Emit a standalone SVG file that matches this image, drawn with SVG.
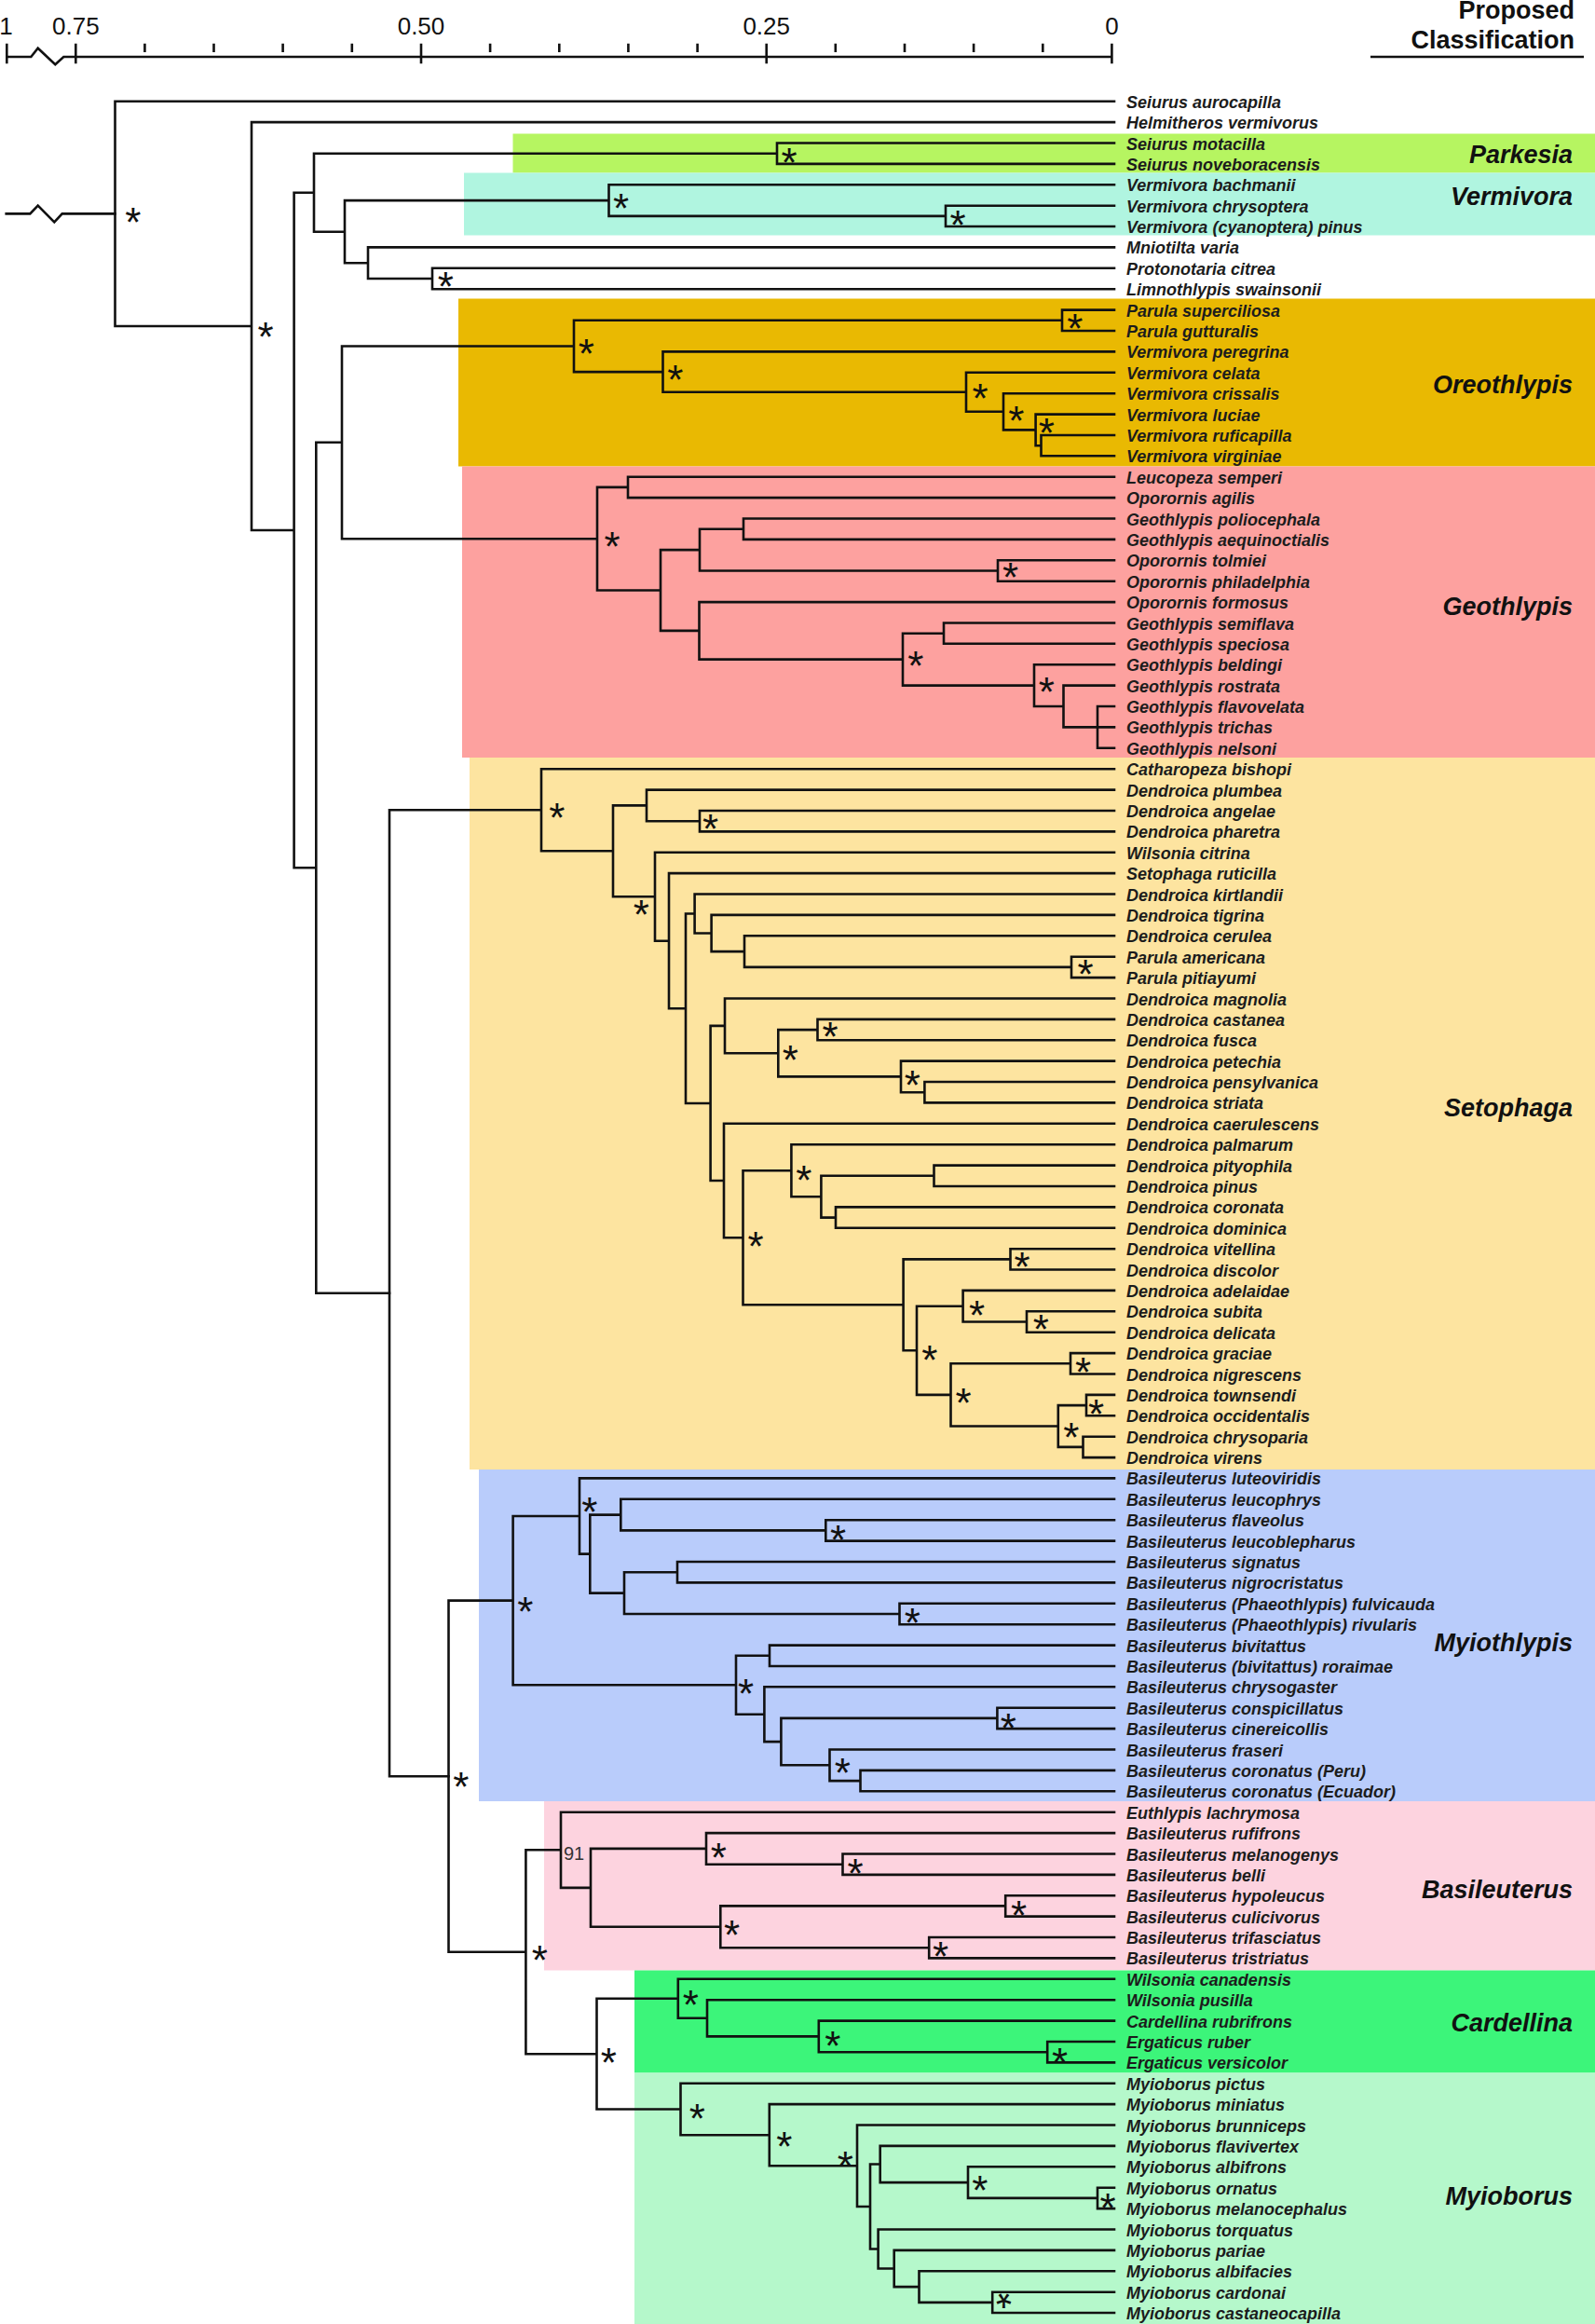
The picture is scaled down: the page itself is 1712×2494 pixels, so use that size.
<svg xmlns="http://www.w3.org/2000/svg" width="1712" height="2494" viewBox="0 0 1712 2494">
<style>
.br{fill:none;stroke:#111;stroke-width:2.6;stroke-linecap:square}
.ax{fill:none;stroke:#111;stroke-width:2.6}
.lf{font-family:"Liberation Sans",Arial,sans-serif;font-weight:bold;font-style:italic;font-size:18px;fill:#1c1c1c}
.cl{font-family:"Liberation Sans",Arial,sans-serif;font-weight:bold;font-style:italic;font-size:27px;fill:#111;text-anchor:end}
.hd{font-family:"Liberation Sans",Arial,sans-serif;font-weight:bold;font-size:27px;fill:#111;text-anchor:end}
.tk{font-family:"Liberation Sans",Arial,sans-serif;font-size:26px;fill:#111;text-anchor:middle}
.st{font-family:"Liberation Sans",Arial,sans-serif;font-size:44px;fill:#111;text-anchor:middle}
.bs{font-family:"Liberation Sans",Arial,sans-serif;font-size:20px;fill:#333}
</style>
<rect width="1712" height="2494" fill="#fff"/>
<g id="clade-boxes">
<rect id="box-parkesia" x="550.5" y="143.5" width="1161.5" height="42" fill="#b6f561"/>
<rect id="box-vermivora" x="498" y="185.5" width="1214" height="67" fill="#b0f5e0"/>
<rect id="box-oreothlypis" x="492" y="320.5" width="1220" height="180" fill="#e9b902"/>
<rect id="box-geothlypis" x="496" y="500.5" width="1216" height="312.5" fill="#fda19f"/>
<rect id="box-setophaga" x="504" y="813" width="1208" height="764" fill="#fde4a0"/>
<rect id="box-myiothlypis" x="514" y="1577" width="1198" height="356" fill="#b9ccfb"/>
<rect id="box-basileuterus" x="584" y="1933" width="1128" height="181.5" fill="#fdd3df"/>
<rect id="box-cardellina" x="681" y="2114.5" width="1031" height="110" fill="#3cf57a"/>
<rect id="box-myioborus" x="681" y="2224.5" width="1031" height="269.5" fill="#b5f8cb"/>
</g>
<g id="axis">
<path class="ax" d="M7.3,61H33.3L40.7,51.7L59.3,69.3L68.3,61H81.3M81.3,61H1193.4"/>
<path class="ax" d="M7.3,46.7V68.3M81.3,46.7V68.3M452,46.7V68.3M822.7,46.7V68.3M1193.4,46.7V68.3"/>
<path class="ax" d="M155.4,46.7V56M229.5,46.7V56M303.6,46.7V56M377.8,46.7V56M526.1,46.7V56M600.3,46.7V56M674.4,46.7V56M748.6,46.7V56M896.8,46.7V56M971,46.7V56M1045.1,46.7V56M1119.3,46.7V56"/>
<text class="tk" x="6.5" y="37">1</text>
<text class="tk" x="81.3" y="37">0.75</text>
<text class="tk" x="452" y="37">0.50</text>
<text class="tk" x="822.7" y="37">0.25</text>
<text class="tk" x="1193.4" y="37">0</text>
</g>
<g id="header">
<text class="hd" x="1690" y="20">Proposed</text>
<text class="hd" x="1690" y="52">Classification</text>
<path class="ax" d="M1471,61H1700"/>
</g>
<g id="connectors">
<path class="br" d="M6.7,229.4H32.3L40.7,220.5L58.3,238.3L66.7,229.4H123.5"/>
<path class="br" d="M123.5,108.7V350M123.5,108.7H1196M123.5,350H270
M270,131.1V569M270,131.1H1196M270,569H315.6
M315.6,206.7V931.3M315.6,206.7H337M315.6,931.3H339.3
M337,164.7V248.7M337,164.7H834M337,248.7H370
M834,153.5V175.9M834,153.5H1196M834,175.9H1196
M370,215.1V282.2M370,215.1H653.5M370,282.2H395
M653.5,198.3V231.9M653.5,198.3H1196M653.5,231.9H1015
M1015,220.7V243M1015,220.7H1196M1015,243H1196
M395,265.4V299M395,265.4H1196M395,299H464
M464,287.8V310.2M464,287.8H1196M464,310.2H1196
M339.3,474.8V1387.7M339.3,474.8H367M339.3,1387.7H418
M367,371.5V578.2M367,371.5H616M367,578.2H641
M616,343.8V399.1M616,343.8H1140M616,399.1H711.5
M1140,332.6V355M1140,332.6H1196M1140,355H1196
M711.5,377.4V420.8M711.5,377.4H1196M711.5,420.8H1037
M1037,399.8V441.8M1037,399.8H1196M1037,441.8H1077
M1077,422.2V461.4M1077,422.2H1196M1077,461.4H1111.6
M1111.6,444.6V478.2M1111.6,444.6H1196M1111.6,478.2H1117.5
M1117.5,467V489.3M1117.5,467H1196M1117.5,489.3H1196
M641,522.9V633.5M641,522.9H674M641,633.5H709
M674,511.7V534.1M674,511.7H1196M674,534.1H1196
M709,590.1V676.9M709,590.1H751M709,676.9H750.5
M751,567.7V612.5M751,567.7H798M751,612.5H1071
M798,556.5V578.9M798,556.5H1196M798,578.9H1196
M1071,601.3V623.7M1071,601.3H1196M1071,623.7H1196
M750.5,646.1V707.6M750.5,646.1H1196M750.5,707.6H969
M969,679.7V735.6M969,679.7H1013M969,735.6H1110
M1013,668.5V690.8M1013,668.5H1196M1013,690.8H1196
M1110,713.2V758M1110,713.2H1196M1110,758H1141.5
M1141.5,735.6V780.4M1141.5,735.6H1196M1141.5,780.4H1178
M1178,758V802.8M1178,758H1196M1178,780.4H1196M1178,802.8H1196"/>
<path class="br" d="M418,869.3V1906.2M418,869.3H581M418,1906.2H481.5
M581,825.2V913.3M581,825.2H1196M581,913.3H658
M658,864.4V962.2M658,864.4H694M658,962.2H703
M694,847.6V881.2M694,847.6H1196M694,881.2H751
M751,870V892.4M751,870H1196M751,892.4H1196
M703,914.7V1009.7M703,914.7H1196M703,1009.7H718
M718,937.1V1082.2M718,937.1H1196M718,1082.2H736
M736,980.5V1184M736,980.5H745.6M736,1184H762.6
M745.6,959.5V1001.5M745.6,959.5H1196M745.6,1001.5H763.6
M763.6,981.9V1021.1M763.6,981.9H1196M763.6,1021.1H799
M799,1004.3V1037.9M799,1004.3H1196M799,1037.9H1150
M1150,1026.7V1049.1M1150,1026.7H1196M1150,1049.1H1196
M762.6,1100.9V1267M762.6,1100.9H778M762.6,1267H777
M778,1071.5V1130.3M778,1071.5H1196M778,1130.3H835.3
M835.3,1105.1V1155.4M835.3,1105.1H877.5M835.3,1155.4H967
M877.5,1093.9V1116.3M877.5,1093.9H1196M877.5,1116.3H1196
M967,1138.6V1172.2M967,1138.6H1196M967,1172.2H992.4
M992.4,1161V1183.4M992.4,1161H1196M992.4,1183.4H1196
M777,1205.8V1328.3M777,1205.8H1196M777,1328.3H797.5
M797.5,1256.2V1400.3M797.5,1256.2H849.4M797.5,1400.3H969.6
M849.4,1228.2V1284.2M849.4,1228.2H1196M849.4,1284.2H881.4
M881.4,1261.8V1306.6M881.4,1261.8H1002.5M881.4,1306.6H897
M1002.5,1250.6V1273M1002.5,1250.6H1196M1002.5,1273H1196
M897,1295.4V1317.8M897,1295.4H1196M897,1317.8H1196
M969.6,1351.4V1449.3M969.6,1351.4H1084.5M969.6,1449.3H984
M1084.5,1340.2V1362.5M1084.5,1340.2H1196M1084.5,1362.5H1196
M984,1401.7V1496.9M984,1401.7H1033.6M984,1496.9H1020.5
M1033.6,1384.9V1418.5M1033.6,1384.9H1196M1033.6,1418.5H1102
M1102,1407.3V1429.7M1102,1407.3H1196M1102,1429.7H1196
M1020.5,1463.3V1530.5M1020.5,1463.3H1149M1020.5,1530.5H1135.8
M1149,1452.1V1474.5M1149,1452.1H1196M1149,1474.5H1196
M1135.8,1508.1V1552.9M1135.8,1508.1H1166M1135.8,1552.9H1162.5
M1166,1496.9V1519.3M1166,1496.9H1196M1166,1519.3H1196
M1162.5,1541.7V1564.1M1162.5,1541.7H1196M1162.5,1564.1H1196"/>
<path class="br" d="M481.5,1717.6V2094.7M481.5,1717.6H550.6M481.5,2094.7H564.4
M550.6,1627V1808.3M550.6,1627H622M550.6,1808.3H790
M622,1586.4V1667.6M622,1586.4H1196M622,1667.6H633.3
M633.3,1625.6V1709.6M633.3,1625.6H666.3M633.3,1709.6H670
M666.3,1608.8V1642.4M666.3,1608.8H1196M666.3,1642.4H886.3
M886.3,1631.2V1653.6M886.3,1631.2H1196M886.3,1653.6H1196
M670,1687.2V1732M670,1687.2H727M670,1732H965.5
M727,1676V1698.4M727,1676H1196M727,1698.4H1196
M965.5,1720.8V1743.2M965.5,1720.8H1196M965.5,1743.2H1196
M790,1776.8V1839.7M790,1776.8H826M790,1839.7H820.4
M826,1765.6V1788M826,1765.6H1196M826,1788H1196
M820.4,1810.3V1869.1M820.4,1810.3H1196M820.4,1869.1H838.4
M838.4,1843.9V1894.3M838.4,1843.9H1070.4M838.4,1894.3H890.5
M1070.4,1832.7V1855.1M1070.4,1832.7H1196M1070.4,1855.1H1196
M890.5,1877.5V1911.1M890.5,1877.5H1196M890.5,1911.1H923.5
M923.5,1899.9V1922.3M923.5,1899.9H1196M923.5,1922.3H1196
M564.4,1985.3V2204.2M564.4,1985.3H602M564.4,2204.2H640.5
M602,1944.7V2025.9M602,1944.7H1196M602,2025.9H634
M634,1983.9V2067.8M634,1983.9H758M634,2067.8H773.3
M758,1967.1V2000.7M758,1967.1H1196M758,2000.7H904.5
M904.5,1989.5V2011.9M904.5,1989.5H1196M904.5,2011.9H1196
M773.3,2045.4V2090.2M773.3,2045.4H1079.2M773.3,2090.2H997.2
M1079.2,2034.2V2056.6M1079.2,2034.2H1196M1079.2,2056.6H1196
M997.2,2079V2101.4M997.2,2079H1196M997.2,2101.4H1196
M640.5,2144.8V2263.5M640.5,2144.8H727.8M640.5,2263.5H730.5
M727.8,2123.8V2165.8M727.8,2123.8H1196M727.8,2165.8H759
M759,2146.2V2185.4M759,2146.2H1196M759,2185.4H878.8
M878.8,2168.6V2202.2M878.8,2168.6H1196M878.8,2202.2H1124.2
M1124.2,2191V2213.4M1124.2,2191H1196M1124.2,2213.4H1196
M730.5,2235.8V2291.2M730.5,2235.8H1196M730.5,2291.2H825.8
M825.8,2258.1V2324.3M825.8,2258.1H1196M825.8,2324.3H920
M920,2280.5V2368M920,2280.5H1196M920,2368H934
M934,2322.5V2413.5M934,2322.5H944.7M934,2413.5H942.6
M944.7,2302.9V2342.1M944.7,2302.9H1196M944.7,2342.1H1039
M1039,2325.3V2358.9M1039,2325.3H1196M1039,2358.9H1178
M1178,2347.7V2370.1M1178,2347.7H1196M1178,2370.1H1196
M942.6,2392.5V2434.5M942.6,2392.5H1196M942.6,2434.5H959.7
M959.7,2414.9V2454.1M959.7,2414.9H1196M959.7,2454.1H986.5
M986.5,2437.3V2470.9M986.5,2437.3H1196M986.5,2470.9H1065.2
M1065.2,2459.7V2482M1065.2,2459.7H1196M1065.2,2482H1196"/>
</g>
<g id="supports" class="st">
<g id="n-root"><text x="142.7" y="253.5">*</text></g>
<g id="n-1"><text x="285" y="377">*</text></g>
<g id="n-parkesia"><text x="847" y="189.7">*</text></g>
<g id="n-vermivora"><text x="666.5" y="238.8">*</text></g>
<g id="n-vermivora2"><text x="1028" y="257">*</text></g>
<g id="n-protonotaria"><text x="478.4" y="322.7">*</text></g>
<g id="n-parula1"><text x="1153.8" y="368.3">*</text></g>
<g id="n-oreo1"><text x="629.3" y="395">*</text></g>
<g id="n-oreo2"><text x="724.8" y="423.3">*</text></g>
<g id="n-oreo3"><text x="1052" y="443.3">*</text></g>
<g id="n-oreo4"><text x="1090.8" y="466.7">*</text></g>
<g id="n-oreo5"><text x="1123.2" y="480">*</text></g>
<g id="n-geo1"><text x="657" y="601.7">*</text></g>
<g id="n-geo6"><text x="1084.5" y="635">*</text></g>
<g id="n-geo8"><text x="982.7" y="730">*</text></g>
<g id="n-geo10"><text x="1123.2" y="758.3">*</text></g>
<g id="n-s1"><text x="597.8" y="893.3">*</text></g>
<g id="n-s5"><text x="762.6" y="905">*</text></g>
<g id="n-s4"><text x="688.4" y="996.7">*</text></g>
<g id="n-s10b"><text x="1165" y="1061">*</text></g>
<g id="n-s14"><text x="891" y="1128.3">*</text></g>
<g id="n-s13"><text x="848.4" y="1153.3">*</text></g>
<g id="n-s15"><text x="979.3" y="1180">*</text></g>
<g id="n-s19"><text x="862.9" y="1281.7">*</text></g>
<g id="n-s18"><text x="811" y="1353.3">*</text></g>
<g id="n-s24"><text x="1097" y="1375">*</text></g>
<g id="n-s26"><text x="1048.6" y="1426.7">*</text></g>
<g id="n-s27"><text x="1117.4" y="1441.7">*</text></g>
<g id="n-s25"><text x="997.7" y="1475">*</text></g>
<g id="n-s29"><text x="1162.5" y="1487.7">*</text></g>
<g id="n-s28"><text x="1034" y="1521">*</text></g>
<g id="n-s31"><text x="1176.6" y="1533.3">*</text></g>
<g id="n-s30"><text x="1149.9" y="1557.7">*</text></g>
<g id="n-m1"><text x="632.7" y="1638.3">*</text></g>
<g id="n-m4"><text x="899.5" y="1668.3">*</text></g>
<g id="n-m0"><text x="563.8" y="1745">*</text></g>
<g id="n-m7"><text x="979.3" y="1757.3">*</text></g>
<g id="n-m8"><text x="800.6" y="1833.3">*</text></g>
<g id="n-m12"><text x="1082.4" y="1870">*</text></g>
<g id="n-m13"><text x="904.3" y="1918.3">*</text></g>
<g id="n-b0"><text x="494.8" y="1933.3">*</text></g>
<g id="n-ba0"><text class="bs" x="605" y="1996" style="text-anchor:start">91</text></g>
<g id="n-ba2"><text x="771.2" y="2009.1">*</text></g>
<g id="n-ba3"><text x="918" y="2025.6">*</text></g>
<g id="n-ba5"><text x="1093.6" y="2070.6">*</text></g>
<g id="n-ba4"><text x="785.6" y="2091.5">*</text></g>
<g id="n-ba6"><text x="1009.5" y="2115.3">*</text></g>
<g id="n-b1"><text x="579.4" y="2119">*</text></g>
<g id="n-ca0"><text x="741.2" y="2167.3">*</text></g>
<g id="n-ca2"><text x="893.8" y="2211.3">*</text></g>
<g id="n-c0"><text x="653.3" y="2228.9">*</text></g>
<g id="n-ca3"><text x="1137.6" y="2228.9">*</text></g>
<g id="n-my0"><text x="748.2" y="2289.3">*</text></g>
<g id="n-my1"><text x="841.9" y="2318.6">*</text></g>
<g id="n-my2"><text x="907.2" y="2339.9">*</text></g>
<g id="n-my5"><text x="1051.8" y="2366.2">*</text></g>
<g id="n-my5b"><text x="1189" y="2384.6">*</text></g>
<g id="n-my9"><text x="1077.5" y="2496.3" transform="rotate(180 1077.5 2471.3)">*</text></g>
</g>
<g id="clade-labels" class="cl">
<text x="1688" y="175">Parkesia</text>
<text x="1688" y="220">Vermivora</text>
<text x="1688" y="422">Oreothlypis</text>
<text x="1688" y="659.5">Geothlypis</text>
<text x="1688" y="1198">Setophaga</text>
<text x="1688" y="1772">Myiothlypis</text>
<text x="1688" y="2036.5">Basileuterus</text>
<text x="1688" y="2179.5">Cardellina</text>
<text x="1688" y="2365.5">Myioborus</text>
</g>
<g id="taxa" class="lf">
<g id="t0"><text x="1209" y="115.7">Seiurus aurocapilla</text></g>
<g id="t1"><text x="1209" y="138.1">Helmitheros vermivorus</text></g>
<g id="t2"><text x="1209" y="160.5">Seiurus motacilla</text></g>
<g id="t3"><text x="1209" y="182.9">Seiurus noveboracensis</text></g>
<g id="t4"><text x="1209" y="205.3">Vermivora bachmanii</text></g>
<g id="t5"><text x="1209" y="227.7">Vermivora chrysoptera</text></g>
<g id="t6"><text x="1209" y="250">Vermivora (cyanoptera) pinus</text></g>
<g id="t7"><text x="1209" y="272.4">Mniotilta varia</text></g>
<g id="t8"><text x="1209" y="294.8">Protonotaria citrea</text></g>
<g id="t9"><text x="1209" y="317.2">Limnothlypis swainsonii</text></g>
<g id="t10"><text x="1209" y="339.6">Parula superciliosa</text></g>
<g id="t11"><text x="1209" y="362">Parula gutturalis</text></g>
<g id="t12"><text x="1209" y="384.4">Vermivora peregrina</text></g>
<g id="t13"><text x="1209" y="406.8">Vermivora celata</text></g>
<g id="t14"><text x="1209" y="429.2">Vermivora crissalis</text></g>
<g id="t15"><text x="1209" y="451.6">Vermivora luciae</text></g>
<g id="t16"><text x="1209" y="474">Vermivora ruficapilla</text></g>
<g id="t17"><text x="1209" y="496.3">Vermivora virginiae</text></g>
<g id="t18"><text x="1209" y="518.7">Leucopeza semperi</text></g>
<g id="t19"><text x="1209" y="541.1">Oporornis agilis</text></g>
<g id="t20"><text x="1209" y="563.5">Geothlypis poliocephala</text></g>
<g id="t21"><text x="1209" y="585.9">Geothlypis aequinoctialis</text></g>
<g id="t22"><text x="1209" y="608.3">Oporornis tolmiei</text></g>
<g id="t23"><text x="1209" y="630.7">Oporornis philadelphia</text></g>
<g id="t24"><text x="1209" y="653.1">Oporornis formosus</text></g>
<g id="t25"><text x="1209" y="675.5">Geothlypis semiflava</text></g>
<g id="t26"><text x="1209" y="697.8">Geothlypis speciosa</text></g>
<g id="t27"><text x="1209" y="720.2">Geothlypis beldingi</text></g>
<g id="t28"><text x="1209" y="742.6">Geothlypis rostrata</text></g>
<g id="t29"><text x="1209" y="765">Geothlypis flavovelata</text></g>
<g id="t30"><text x="1209" y="787.4">Geothlypis trichas</text></g>
<g id="t31"><text x="1209" y="809.8">Geothlypis nelsoni</text></g>
<g id="t32"><text x="1209" y="832.2">Catharopeza bishopi</text></g>
<g id="t33"><text x="1209" y="854.6">Dendroica plumbea</text></g>
<g id="t34"><text x="1209" y="877">Dendroica angelae</text></g>
<g id="t35"><text x="1209" y="899.4">Dendroica pharetra</text></g>
<g id="t36"><text x="1209" y="921.7">Wilsonia citrina</text></g>
<g id="t37"><text x="1209" y="944.1">Setophaga ruticilla</text></g>
<g id="t38"><text x="1209" y="966.5">Dendroica kirtlandii</text></g>
<g id="t39"><text x="1209" y="988.9">Dendroica tigrina</text></g>
<g id="t40"><text x="1209" y="1011.3">Dendroica cerulea</text></g>
<g id="t41"><text x="1209" y="1033.7">Parula americana</text></g>
<g id="t42"><text x="1209" y="1056.1">Parula pitiayumi</text></g>
<g id="t43"><text x="1209" y="1078.5">Dendroica magnolia</text></g>
<g id="t44"><text x="1209" y="1100.9">Dendroica castanea</text></g>
<g id="t45"><text x="1209" y="1123.3">Dendroica fusca</text></g>
<g id="t46"><text x="1209" y="1145.6">Dendroica petechia</text></g>
<g id="t47"><text x="1209" y="1168">Dendroica pensylvanica</text></g>
<g id="t48"><text x="1209" y="1190.4">Dendroica striata</text></g>
<g id="t49"><text x="1209" y="1212.8">Dendroica caerulescens</text></g>
<g id="t50"><text x="1209" y="1235.2">Dendroica palmarum</text></g>
<g id="t51"><text x="1209" y="1257.6">Dendroica pityophila</text></g>
<g id="t52"><text x="1209" y="1280">Dendroica pinus</text></g>
<g id="t53"><text x="1209" y="1302.4">Dendroica coronata</text></g>
<g id="t54"><text x="1209" y="1324.8">Dendroica dominica</text></g>
<g id="t55"><text x="1209" y="1347.2">Dendroica vitellina</text></g>
<g id="t56"><text x="1209" y="1369.5">Dendroica discolor</text></g>
<g id="t57"><text x="1209" y="1391.9">Dendroica adelaidae</text></g>
<g id="t58"><text x="1209" y="1414.3">Dendroica subita</text></g>
<g id="t59"><text x="1209" y="1436.7">Dendroica delicata</text></g>
<g id="t60"><text x="1209" y="1459.1">Dendroica graciae</text></g>
<g id="t61"><text x="1209" y="1481.5">Dendroica nigrescens</text></g>
<g id="t62"><text x="1209" y="1503.9">Dendroica townsendi</text></g>
<g id="t63"><text x="1209" y="1526.3">Dendroica occidentalis</text></g>
<g id="t64"><text x="1209" y="1548.7">Dendroica chrysoparia</text></g>
<g id="t65"><text x="1209" y="1571.1">Dendroica virens</text></g>
<g id="t66"><text x="1209" y="1593.4">Basileuterus luteoviridis</text></g>
<g id="t67"><text x="1209" y="1615.8">Basileuterus leucophrys</text></g>
<g id="t68"><text x="1209" y="1638.2">Basileuterus flaveolus</text></g>
<g id="t69"><text x="1209" y="1660.6">Basileuterus leucoblepharus</text></g>
<g id="t70"><text x="1209" y="1683">Basileuterus signatus</text></g>
<g id="t71"><text x="1209" y="1705.4">Basileuterus nigrocristatus</text></g>
<g id="t72"><text x="1209" y="1727.8">Basileuterus (Phaeothlypis) fulvicauda</text></g>
<g id="t73"><text x="1209" y="1750.2">Basileuterus (Phaeothlypis) rivularis</text></g>
<g id="t74"><text x="1209" y="1772.6">Basileuterus bivitattus</text></g>
<g id="t75"><text x="1209" y="1795">Basileuterus (bivitattus) roraimae</text></g>
<g id="t76"><text x="1209" y="1817.3">Basileuterus chrysogaster</text></g>
<g id="t77"><text x="1209" y="1839.7">Basileuterus conspicillatus</text></g>
<g id="t78"><text x="1209" y="1862.1">Basileuterus cinereicollis</text></g>
<g id="t79"><text x="1209" y="1884.5">Basileuterus fraseri</text></g>
<g id="t80"><text x="1209" y="1906.9">Basileuterus coronatus (Peru)</text></g>
<g id="t81"><text x="1209" y="1929.3">Basileuterus coronatus (Ecuador)</text></g>
<g id="t82"><text x="1209" y="1951.7">Euthlypis lachrymosa</text></g>
<g id="t83"><text x="1209" y="1974.1">Basileuterus rufifrons</text></g>
<g id="t84"><text x="1209" y="1996.5">Basileuterus melanogenys</text></g>
<g id="t85"><text x="1209" y="2018.9">Basileuterus belli</text></g>
<g id="t86"><text x="1209" y="2041.2">Basileuterus hypoleucus</text></g>
<g id="t87"><text x="1209" y="2063.6">Basileuterus culicivorus</text></g>
<g id="t88"><text x="1209" y="2086">Basileuterus trifasciatus</text></g>
<g id="t89"><text x="1209" y="2108.4">Basileuterus tristriatus</text></g>
<g id="t90"><text x="1209" y="2130.8">Wilsonia canadensis</text></g>
<g id="t91"><text x="1209" y="2153.2">Wilsonia pusilla</text></g>
<g id="t92"><text x="1209" y="2175.6">Cardellina rubrifrons</text></g>
<g id="t93"><text x="1209" y="2198">Ergaticus ruber</text></g>
<g id="t94"><text x="1209" y="2220.4">Ergaticus versicolor</text></g>
<g id="t95"><text x="1209" y="2242.8">Myioborus pictus</text></g>
<g id="t96"><text x="1209" y="2265.1">Myioborus miniatus</text></g>
<g id="t97"><text x="1209" y="2287.5">Myioborus brunniceps</text></g>
<g id="t98"><text x="1209" y="2309.9">Myioborus flavivertex</text></g>
<g id="t99"><text x="1209" y="2332.3">Myioborus albifrons</text></g>
<g id="t100"><text x="1209" y="2354.7">Myioborus ornatus</text></g>
<g id="t101"><text x="1209" y="2377.1">Myioborus melanocephalus</text></g>
<g id="t102"><text x="1209" y="2399.5">Myioborus torquatus</text></g>
<g id="t103"><text x="1209" y="2421.9">Myioborus pariae</text></g>
<g id="t104"><text x="1209" y="2444.3">Myioborus albifacies</text></g>
<g id="t105"><text x="1209" y="2466.7">Myioborus cardonai</text></g>
<g id="t106"><text x="1209" y="2489">Myioborus castaneocapilla</text></g>
</g>
</svg>
